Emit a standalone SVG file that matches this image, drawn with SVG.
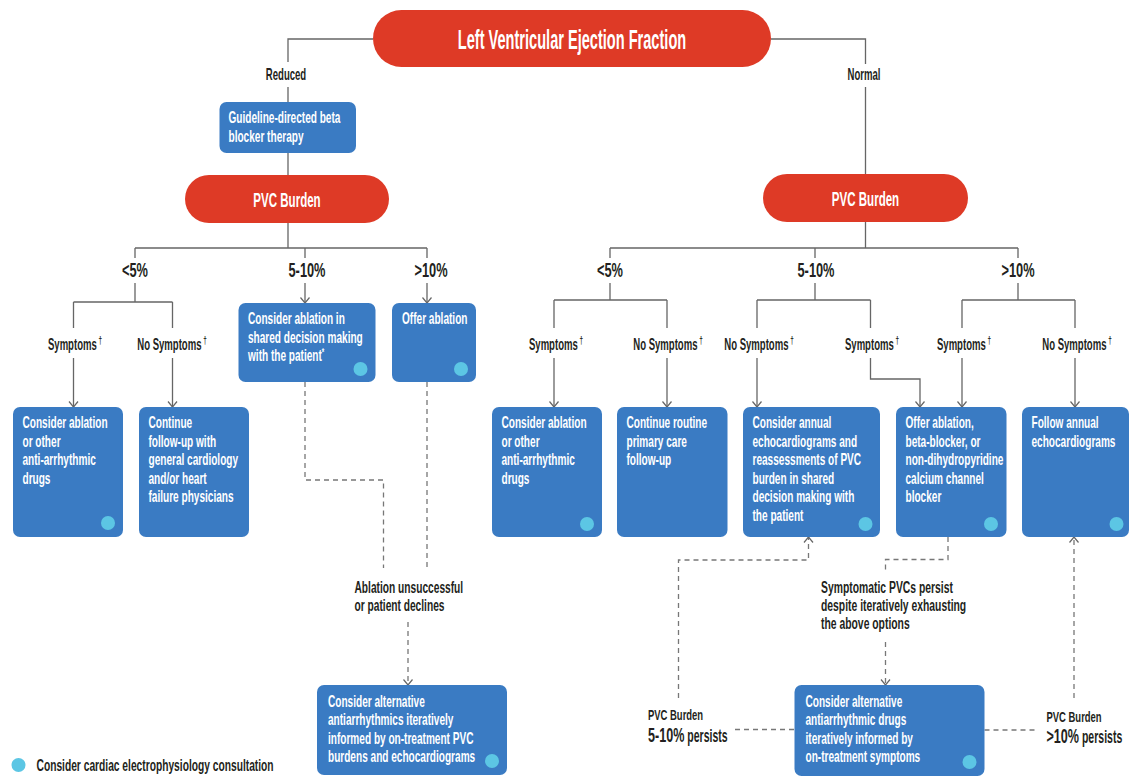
<svg xmlns="http://www.w3.org/2000/svg" width="1130" height="780" viewBox="0 0 1130 780">
<defs>
<style>
text{font-family:"Liberation Sans",Arial,sans-serif;font-weight:700}
.pill{fill:#DE3A26}
.box{fill:#3A7BC3}
.dot{fill:#5CC6E4}
.ti{font-size:27px;fill:#fff}
.pt{font-size:21px;fill:#fff}
.bx{font-size:16px;fill:#fff}
.lb{font-size:16.5px;fill:#231f20}
.pc{font-size:21px;fill:#231f20}
.nt{font-size:17px;fill:#231f20}
.sm{font-size:15.5px;fill:#231f20}
.lg{font-size:16px;fill:#231f20}
.ln{fill:none;stroke:#666;stroke-width:1.3}
.ds{fill:none;stroke:#777;stroke-width:1.3;stroke-dasharray:5 4}
</style>
<marker id="ah" viewBox="0 0 6 10" refX="5.5" refY="5" markerWidth="6" markerHeight="10" markerUnits="userSpaceOnUse" orient="auto" overflow="visible">
<path d="M0,0.5 L5.5,5 L0,9.5" fill="none" stroke="#666" stroke-width="1.2"/>
</marker>
</defs>
<rect width="1130" height="780" fill="#fff"/>

<g id="connectors">
<path class="ln" d="M373,39 H288 V62 M288,87 V102"/>
<path class="ln" d="M771,39 H865.5 V64 M865.5,87 V174"/>
<path class="ln" d="M288,153 V175"/>
<path class="ln" d="M288,223 V248 M135,248 H427 M135,248 V258 M305,248 V258 M427,248 V258"/>
<path class="ln" d="M135,283 V302 M73.5,302 H172.5 M73.5,302 V328 M172.5,302 V328"/>
<path class="ln" marker-end="url(#ah)" d="M73.5,358 V407"/>
<path class="ln" marker-end="url(#ah)" d="M172.5,358 V407"/>
<path class="ln" marker-end="url(#ah)" d="M305,283 V303"/>
<path class="ln" marker-end="url(#ah)" d="M427,283 V303"/>
<path class="ln" d="M865.5,222 V248 M610,248 H1018 M610,248 V258 M815,248 V258 M1018,248 V258"/>
<path class="ln" d="M610,283 V300 M554,300 H667 M554,300 V328 M667,300 V328"/>
<path class="ln" d="M815,283 V300 M757,300 H870.5 M757,300 V328 M870.5,300 V328"/>
<path class="ln" d="M1018,283 V300 M962,300 H1075 M962,300 V328 M1075,300 V328"/>
<path class="ln" marker-end="url(#ah)" d="M554,358 V407"/>
<path class="ln" marker-end="url(#ah)" d="M667,358 V407"/>
<path class="ln" marker-end="url(#ah)" d="M757,358 V407"/>
<path class="ln" marker-end="url(#ah)" d="M870.5,358 V379 H920 V407"/>
<path class="ln" marker-end="url(#ah)" d="M962,358 V407"/>
<path class="ln" marker-end="url(#ah)" d="M1075,358 V407"/>
<path class="ds" d="M305,382 V480 H383.5 V568"/>
<path class="ds" d="M427,382 V568"/>
<path class="ds" marker-end="url(#ah)" d="M408,622 V685"/>
<path class="ds" marker-end="url(#ah)" d="M678.5,698 V560 H808.5 V537"/>
<path class="ds" d="M948,537 V559.5 H885.5 V570"/>
<path class="ds" marker-end="url(#ah)" d="M885.5,642 V685"/>
<path class="ds" d="M735,729.5 H794.5"/>
<path class="ds" d="M984.5,730 H1038"/>
<path class="ds" marker-end="url(#ah)" d="M1074,698 V537"/>
</g>

<g id="labels">
<text class="lb" text-anchor="middle" transform="translate(286,80) scale(0.58,1)">Reduced</text>
<text class="lb" text-anchor="middle" transform="translate(864,80) scale(0.58,1)">Normal</text>
<text class="pc" text-anchor="middle" transform="translate(135,277) scale(0.61,1)">&lt;5%</text>
<text class="pc" text-anchor="middle" transform="translate(307,277) scale(0.61,1)">5-10%</text>
<text class="pc" text-anchor="middle" transform="translate(431,277) scale(0.61,1)">&gt;10%</text>
<text class="pc" text-anchor="middle" transform="translate(610,277) scale(0.61,1)">&lt;5%</text>
<text class="pc" text-anchor="middle" transform="translate(816,277) scale(0.61,1)">5-10%</text>
<text class="pc" text-anchor="middle" transform="translate(1018,277) scale(0.61,1)">&gt;10%</text>
<text class="lb" text-anchor="middle" transform="translate(75,350) scale(0.58,1)">Symptoms<tspan font-size="11" dx="3" dy="-6">†</tspan></text>
<text class="lb" text-anchor="middle" transform="translate(172,350) scale(0.58,1)">No Symptoms<tspan font-size="11" dx="3" dy="-6">†</tspan></text>
<text class="lb" text-anchor="middle" transform="translate(556,350) scale(0.58,1)">Symptoms<tspan font-size="11" dx="3" dy="-6">†</tspan></text>
<text class="lb" text-anchor="middle" transform="translate(668,350) scale(0.58,1)">No Symptoms<tspan font-size="11" dx="3" dy="-6">†</tspan></text>
<text class="lb" text-anchor="middle" transform="translate(759,350) scale(0.58,1)">No Symptoms<tspan font-size="11" dx="3" dy="-6">†</tspan></text>
<text class="lb" text-anchor="middle" transform="translate(872,350) scale(0.58,1)">Symptoms<tspan font-size="11" dx="3" dy="-6">†</tspan></text>
<text class="lb" text-anchor="middle" transform="translate(964,350) scale(0.58,1)">Symptoms<tspan font-size="11" dx="3" dy="-6">†</tspan></text>
<text class="lb" text-anchor="middle" transform="translate(1077,350) scale(0.58,1)">No Symptoms<tspan font-size="11" dx="3" dy="-6">†</tspan></text>
<text class="nt" transform="translate(354.5,593) scale(0.6,1)"><tspan x="0">Ablation unsuccessful</tspan><tspan x="0" dy="18">or patient declines</tspan></text>
<text class="nt" transform="translate(821,593) scale(0.61,1)"><tspan x="0">Symptomatic PVCs persist</tspan><tspan x="0" dy="18.3">despite iteratively exhausting</tspan><tspan x="0" dy="18">the above options</tspan></text>
<text class="sm" transform="translate(648,720) scale(0.61,1)">PVC Burden</text>
<text class="pc" transform="translate(648,741.5) scale(0.6,1)">5-10%<tspan font-size="17.5"> persists</tspan></text>
<text class="sm" transform="translate(1046.5,721.5) scale(0.61,1)">PVC Burden</text>
<text class="pc" transform="translate(1046.5,743) scale(0.6,1)">&gt;10%<tspan font-size="17.5"> persists</tspan></text>
</g>

<g id="n-lvef">
<rect class="pill" x="373" y="10" width="398" height="57" rx="28.5"/>
<text class="ti" text-anchor="middle" transform="translate(572,48.5) scale(0.54,1)">Left Ventricular Ejection Fraction</text>
</g>
<g id="n-gdbb">
<rect class="box" x="219.5" y="102" width="136.5" height="51" rx="7"/>
<text class="bx" transform="translate(228.5,123.3) scale(0.63,1)"><tspan x="0">Guideline-directed beta</tspan><tspan x="0" dy="18.4">blocker therapy</tspan></text>
</g>
<g id="n-pvc-left">
<rect class="pill" x="185" y="175" width="204" height="48" rx="24"/>
<text class="pt" text-anchor="middle" transform="translate(287,206.5) scale(0.55,1)">PVC Burden</text>
</g>
<g id="n-pvc-right">
<rect class="pill" x="763" y="174" width="205" height="48" rx="24"/>
<text class="pt" text-anchor="middle" transform="translate(865.5,206) scale(0.55,1)">PVC Burden</text>
</g>

<g id="n-l1">
<rect class="box" x="13" y="407" width="110" height="130" rx="7"/>
<text class="bx" transform="translate(22.5,428) scale(0.63,1)"><tspan x="0">Consider ablation</tspan><tspan x="0" dy="18.6">or other</tspan><tspan x="0" dy="18.6">anti-arrhythmic</tspan><tspan x="0" dy="18.6">drugs</tspan></text>
<circle class="dot" cx="108" cy="523" r="7"/>
</g>
<g id="n-l2">
<rect class="box" x="139" y="407" width="110" height="130" rx="7"/>
<text class="bx" transform="translate(148.5,428) scale(0.63,1)"><tspan x="0">Continue</tspan><tspan x="0" dy="18.6">follow-up with</tspan><tspan x="0" dy="18.6">general cardiology</tspan><tspan x="0" dy="18.6">and/or heart</tspan><tspan x="0" dy="18.6">failure physicians</tspan></text>
</g>
<g id="n-l3">
<rect class="box" x="238.5" y="303" width="137" height="79" rx="7"/>
<text class="bx" transform="translate(248,324) scale(0.63,1)"><tspan x="0">Consider ablation in</tspan><tspan x="0" dy="18.6">shared decision making</tspan><tspan x="0" dy="18.6">with the patient<tspan font-size="10" dy="-5">*</tspan></tspan></text>
<circle class="dot" cx="360.5" cy="369" r="7"/>
</g>
<g id="n-l4">
<rect class="box" x="392" y="303" width="84" height="79" rx="7"/>
<text class="bx" transform="translate(402,324) scale(0.63,1)">Offer ablation</text>
<circle class="dot" cx="461" cy="369" r="7"/>
</g>
<g id="n-l5">
<rect class="box" x="317" y="685" width="190" height="90" rx="7"/>
<text class="bx" transform="translate(328,706.5) scale(0.63,1)"><tspan x="0">Consider alternative</tspan><tspan x="0" dy="18.6">antiarrhythmics iteratively</tspan><tspan x="0" dy="18.6">informed by on-treatment PVC</tspan><tspan x="0" dy="18.6">burdens and echocardiograms</tspan></text>
<circle class="dot" cx="492" cy="761" r="7"/>
</g>

<g id="n-r1">
<rect class="box" x="492" y="407" width="110" height="130" rx="7"/>
<text class="bx" transform="translate(501.5,428) scale(0.63,1)"><tspan x="0">Consider ablation</tspan><tspan x="0" dy="18.6">or other</tspan><tspan x="0" dy="18.6">anti-arrhythmic</tspan><tspan x="0" dy="18.6">drugs</tspan></text>
<circle class="dot" cx="587" cy="524" r="7"/>
</g>
<g id="n-r2">
<rect class="box" x="617" y="407" width="110.5" height="130" rx="7"/>
<text class="bx" transform="translate(626.5,428) scale(0.63,1)"><tspan x="0">Continue routine</tspan><tspan x="0" dy="18.6">primary care</tspan><tspan x="0" dy="18.6">follow-up</tspan></text>
</g>
<g id="n-r3">
<rect class="box" x="743" y="407" width="137" height="130" rx="7"/>
<text class="bx" transform="translate(752.5,428) scale(0.63,1)"><tspan x="0">Consider annual</tspan><tspan x="0" dy="18.6">echocardiograms and</tspan><tspan x="0" dy="18.6">reassessments of PVC</tspan><tspan x="0" dy="18.6">burden in shared</tspan><tspan x="0" dy="18.6">decision making with</tspan><tspan x="0" dy="18.6">the patient</tspan></text>
<circle class="dot" cx="865.5" cy="524" r="7"/>
</g>
<g id="n-r4">
<rect class="box" x="896" y="407" width="110.5" height="130" rx="7"/>
<text class="bx" transform="translate(905.5,428) scale(0.63,1)"><tspan x="0">Offer ablation,</tspan><tspan x="0" dy="18.6">beta-blocker, or</tspan><tspan x="0" dy="18.6">non-dihydropyridine</tspan><tspan x="0" dy="18.6">calcium channel</tspan><tspan x="0" dy="18.6">blocker</tspan></text>
<circle class="dot" cx="991" cy="524" r="7"/>
</g>
<g id="n-r5">
<rect class="box" x="1022" y="407" width="107" height="130" rx="7"/>
<text class="bx" transform="translate(1031.5,428) scale(0.63,1)"><tspan x="0">Follow annual</tspan><tspan x="0" dy="18.6">echocardiograms</tspan></text>
<circle class="dot" cx="1116.5" cy="524" r="7"/>
</g>
<g id="n-r6">
<rect class="box" x="794.5" y="685" width="190" height="91" rx="7"/>
<text class="bx" transform="translate(805.5,706.5) scale(0.63,1)"><tspan x="0">Consider alternative</tspan><tspan x="0" dy="18.6">antiarrhythmic drugs</tspan><tspan x="0" dy="18.6">iteratively informed by</tspan><tspan x="0" dy="18.6">on-treatment symptoms</tspan></text>
<circle class="dot" cx="969.5" cy="762" r="7"/>
</g>

<g id="legend">
<circle class="dot" cx="18.5" cy="765" r="7"/>
<text class="lg" transform="translate(36.5,771) scale(0.64,1)">Consider cardiac electrophysiology consultation</text>
</g>
</svg>
